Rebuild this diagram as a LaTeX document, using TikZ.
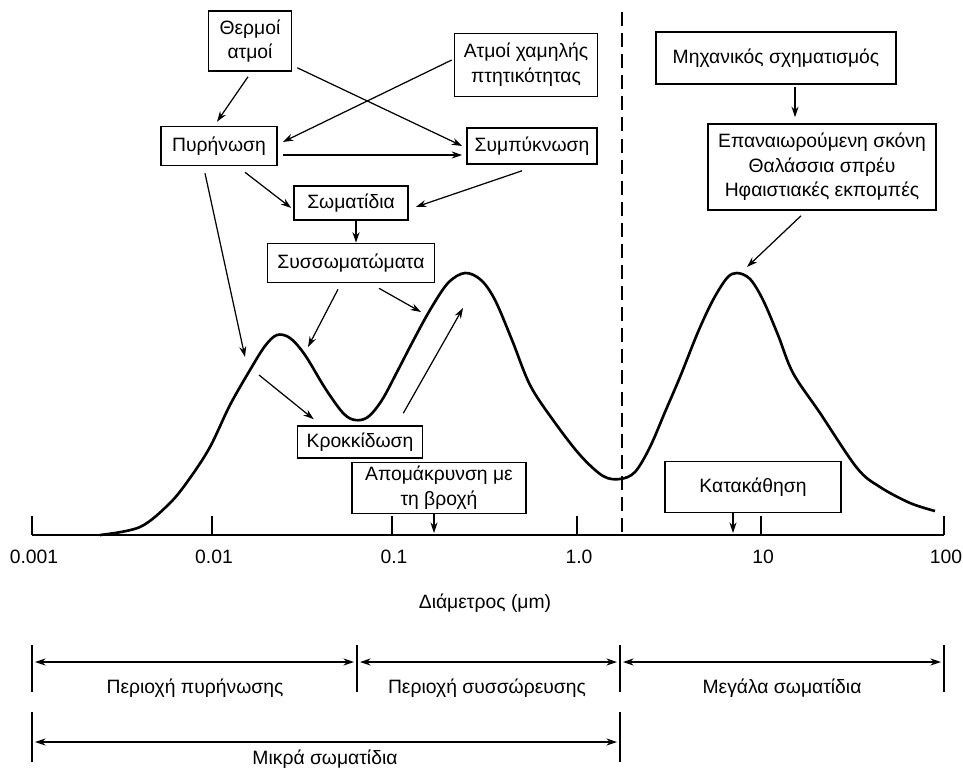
\documentclass[tikz,border=0pt]{standalone}
\usepackage{fontspec}
\setmainfont{Liberation Sans}
\usetikzlibrary{arrows.meta}
\usetikzlibrary{calc}

\tikzset{
	box/.style={draw, line width=0.9pt, align=center, inner sep=0pt},
	link/.style={line width=0.7pt, -{Stealth[length=6pt,width=4pt]}},
	span/.style={line width=0.9pt, {Stealth[length=6pt,width=4pt]}-{Stealth[length=6pt,width=4pt]}},
	bar/.style={line width=0.9pt},
	lbl/.style={inner sep=1pt}
}

\begin{document}
\begin{tikzpicture}[x=0.02cm, y=-0.02cm]
\useasboundingbox (0,0) rectangle (963,771);
\begin{scope}
	\tikzstyle{every node}=[font=\fontsize{11}{14}\selectfont]
	\node[box, minimum width=1.66cm, minimum height=1.2cm] (thermoi) at (250,41) {Θερμοί\\ατμοί};
	\node[box, minimum width=2.86cm, minimum height=1.26cm] (atmoi) at (526,65) {Ατμοί χαμηλής\\πτητικότητας};
	\node[box, minimum width=2.32cm, minimum height=0.78cm] (pyr) at (219,146) {Πυρήνωση};
	\node[box, minimum width=2.6cm, minimum height=0.72cm] (sympyk) at (532,146) {Συμπύκνωση};
	\node[box, minimum width=2.28cm, minimum height=0.68cm] (somat) at (351,203) {Σωματίδια};
	\node[box, minimum width=3.34cm, minimum height=0.78cm] (syss) at (351,263) {Συσσωματώματα};
	\node[box, minimum width=4.8cm, minimum height=1.04cm] (mech) at (776,58) {Μηχανικός σχηματισμός};
	\node[box, minimum width=4.56cm, minimum height=1.72cm] (epan) at (822,167) {Επαναιωρούμενη σκόνη\\Θαλάσσια σπρέυ\\Ηφαιστιακές εκπομπές};
	\node[box, minimum width=2.5cm, minimum height=0.64cm] (krok) at (360,442) {Κροκκίδωση};
	\node[box, minimum width=3.48cm, minimum height=1.02cm] (rain) at (439,488) {Απομάκρυνση με\\τη βροχή};
	\node[box, minimum width=3.52cm, minimum height=1.02cm] (kata) at (753,487) {Κατακάθηση};

	% size distribution
	\draw[line width=1.5pt, line join=round] plot[smooth, tension=0.55] coordinates {
		(100,535) (140,527) (170,503) (190,478) (210,447) (230,405) (250,370) (265,346)
		(277,335) (290,338) (305,355) (325,388) (343,413) (355,420) (368,417) (382,400)
		(397,372) (412,343) (430,310) (448,283) (465,273) (481,280) (495,300) (512,340)
		(530,385) (553,420) (580,455) (603,476) (620,479) (635,472) (650,447) (665,412)
		(680,377) (698,332) (713,300) (727,278) (737,273) (750,279) (763,300) (778,335)
		(793,373) (820,413) (857,468) (880,487) (910,503) (935,511)};

	\coordinate (peakA) at (245,357);
	\coordinate (dipA) at (308,347);
	\coordinate (riseB) at (421,312);
	\coordinate (slopeA) at (259,375);
	\coordinate (peakB) at (463,308);
	\coordinate (peakC) at (747,267);
	\coordinate (rainhit) at (434,533);
	\coordinate (sethit) at (733,533);

	\draw[link] ($(thermoi.south)+(-2,5)$) -- ($(pyr.north)+(-2,-4)$);
	\draw[link] ($(thermoi.south east)+(5,-4)$) -- ($(sympyk.west)+(-4,0)$);
	\draw[link] ($(atmoi.west)+(-2,-5)$) -- ($(pyr.east)+(5,-4)$);
	\draw[link] ($(pyr.east)+(5,9)$) -- ($(sympyk.west)+(-4,9)$);
	\draw[link] ($(pyr.south)+(26,6)$) -- ($(somat.west)+(-2,5)$);
	\draw[link] ($(sympyk.south)+(-10,6)$) -- ($(somat.east)+(7,4)$);
	\draw[link] ($(somat.south)+(5,0)$) -- ($(syss.north)+(5,0)$);
	\draw[link] ($(pyr.south)+(-14,7)$) -- (peakA);
	\draw[link] ($(syss.south)+(-13,6)$) -- (dipA);
	\draw[link] ($(syss.south)+(28,5)$) -- (riseB);
	\draw[link] (slopeA) -- ($(krok.north west)+(17,-6)$);
	\draw[link] ($(krok.north east)+(-20,-12)$) -- (peakB);
	\draw[link] ($(mech.south)+(19,2)$) -- ($(epan.north)+(-27,-6)$);
	\draw[link] ($(epan.south)+(-21,5)$) -- (peakC);
	\draw[link] ($(rain.south)+(-5,0)$) -- (rainhit);
	\draw[link] ($(kata.south)+(-20,0)$) -- (sethit);

	% axis
	\draw[bar] (32,535) -- (944,535);
	\foreach \x/\lab in {32/0.001, 212/0.01, 392/0.1, 577/1.0, 761/10, 944/100} {
		\draw[bar] (\x,516) -- (\x,535);
		\node[lbl] (tick\x) at (\x+2,557) {\lab};
	}
	\node[lbl] (diam) at (485,603) {Διάμετρος (μm)};
	\draw[line width=1pt, dash pattern=on 8pt off 4pt] (622,12) -- (622,535);

	% ranges
	\coordinate (r1a) at (32,662);
	\coordinate (r1b) at (357,662);
	\coordinate (r1c) at (620,662);
	\coordinate (r1d) at (944,662);
	\foreach \x in {32,357,620,944}
		\draw[bar] (\x,645) -- (\x,692);
	\draw[span] ($(r1a)+(3,0)$) -- ($(r1b)+(-3,0)$);
	\draw[span] ($(r1b)+(3,0)$) -- ($(r1c)+(-3,0)$);
	\draw[span] ($(r1c)+(3,0)$) -- ($(r1d)+(-3,0)$);
	\node[lbl] (nucl) at (195,688) {Περιοχή πυρήνωσης};
	\node[lbl] (accu) at (487,688) {Περιοχή συσσώρευσης};
	\node[lbl] (large) at (782,688) {Μεγάλα σωματίδια};

	\coordinate (r2a) at (32,742);
	\coordinate (r2b) at (620,742);
	\foreach \x in {32,620}
		\draw[bar] (\x,712) -- (\x,762);
	\draw[span] ($(r2a)+(3,0)$) -- ($(r2b)+(-3,0)$);
	\node[lbl] (small) at (325,759) {Μικρά σωματίδια};
\end{scope}
\end{tikzpicture}
\end{document}
